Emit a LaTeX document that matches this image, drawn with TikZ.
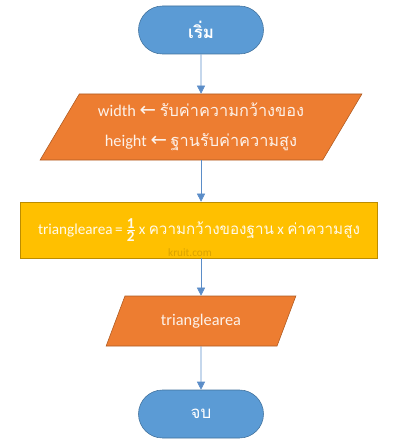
\documentclass[tikz,border=0pt]{standalone}
\usepackage{fontspec}
\setmainfont{Carlito}
\newfontfamily\thai[Script=Thai]{Loma}
\newfontfamily\arrfont{DejaVu Sans}
\usetikzlibrary{shapes.geometric,arrows.meta}
\definecolor{termblue}{HTML}{5B9BD5}
\definecolor{termedge}{HTML}{41719C}
\definecolor{ioorange}{HTML}{ED7D31}
\definecolor{ioedge}{HTML}{AE5A21}
\definecolor{procgold}{HTML}{FFC000}
\definecolor{procedge}{HTML}{BC8C00}
\definecolor{flowline}{HTML}{5B8DC8}
\newcommand{\getarr}{{\arrfont\fontsize{14}{14}\selectfont ←}}
\tikzset{
    boxfont/.style={font=\fontsize{11.6}{15}\selectfont},
    terminal/.style={draw=termedge, fill=termblue, rounded corners=6mm, minimum width=31.25mm, minimum height=12mm, text=white, font=\thai\large\bfseries},
    iobox/.style={draw=ioedge, fill=ioorange, trapezium, trapezium left angle=55, trapezium right angle=125, trapezium stretches=true, text=white!90!ioorange, inner sep=0pt, boxfont},
    procbox/.style={draw=procedge, fill=procgold, minimum width=89.25mm, minimum height=14mm, inner xsep=1mm, text=white!92!procgold, font=\fontsize{10.8}{14}\selectfont},
    flow/.style={flowline, thin, -{Triangle[width=2mm,length=2mm]}}
}
\begin{document}
\begin{tikzpicture}[x=0.25mm,y=-0.25mm]
        \useasboundingbox (0,0) rectangle (400,442);
        % terminals and boxes
        \node[terminal] (start) at (201,30) {เริ่ม};
        \node[iobox, minimum width=80.5mm, minimum height=16.5mm, align=center] (read) at (201,127) {width \getarr\ {\thai รับค่าความกว้างของ}\\[6pt] height \getarr\ {\thai ฐานรับค่าความสูง}};
        \node[procbox] (calc) at (199,230) {trianglearea\,=\,$\frac{\mbox{\bfseries 1}}{\mbox{\bfseries 2}}$\,x {\thai ความกว้างของฐาน} x {\thai ค่าความสูง}};
        \node[text=procedge!55!procgold, font=\footnotesize] (mark) at (190,253) {kruit.com};
        \node[iobox, minimum width=47.75mm, minimum height=12.5mm] (show) at (201,321) {trianglearea};
        \node[terminal, font=\thai\large] (stop) at (201,414) {จบ};
        % connectors
        \draw[flow] (start.south) -- (read.north);
        \draw[flow] (read.south) -- (calc.north -| read.south);
        \draw[flow] (calc.south -| show.north) -- (show.north);
        \draw[flow] (show.south) -- (stop.north);
    \end{tikzpicture}
\end{document}
